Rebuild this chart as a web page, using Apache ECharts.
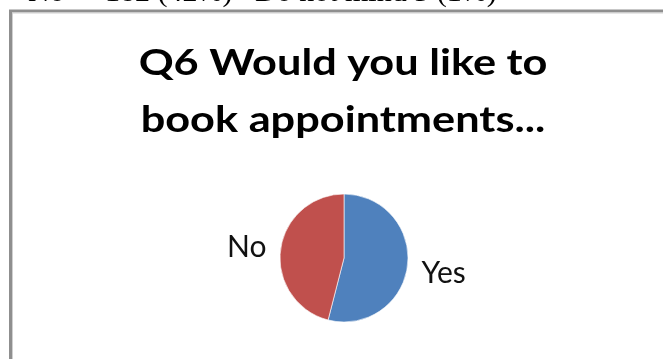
<!DOCTYPE html>
<html>
<head>
<meta charset="utf-8">
<script src="https://cdn.jsdelivr.net/npm/echarts@6/dist/echarts.min.js"></script>
<style>
  html, body { margin: 0; padding: 0; background: #fff; overflow: hidden; }
  #chart { width: 663px; height: 359px; }
</style>
</head>
<body>
<div id="chart"></div>
<script>
// Survey answers for Q6
const categories = ['Yes', 'No'];
const shares = [54, 46];
const sliceColors = ['#4F81BD', '#C0504D'];

// Row of the results table printed just above the chart box
const tableRow = ['No', '182 (42%)', 'Do not mind 3 (1%)'];
const tableRowX = [28, 105, 255];

const titleLines = 'Q6 Would you like to\nbook appointments...';

const chart = echarts.init(document.getElementById('chart'), null, { renderer: 'canvas' });

const tableTexts = tableRow.map((t, i) => ({
  type: 'text',
  x: tableRowX[i],
  y: -22,
  style: {
    text: t,
    font: '30px "Liberation Serif"',
    fill: '#000',
    textVerticalAlign: 'top'
  }
}));

chart.setOption({
  backgroundColor: '#ffffff',
  animation: false,
  graphic: [
    // chart box frame: left and top edges (the rest runs off the page)
    {
      type: 'polyline',
      shape: { points: [[10.5, 400], [10.5, 11], [700, 11]] },
      style: { fill: 'none', stroke: '#8f8f8f', lineWidth: 3 }
    },
    {
      type: 'polyline',
      shape: { points: [[12.5, 400], [12.5, 13], [700, 13]] },
      style: { fill: 'none', stroke: '#d0d0d0', lineWidth: 1 }
    },
    // chart title, slightly widened Calibri-like bold face
    {
      type: 'text',
      x: 343,
      y: 35,
      scaleX: 1.17,
      style: {
        text: titleLines,
        font: 'bold 37px Lato',
        lineHeight: 57,
        fill: '#000',
        textAlign: 'center',
        textVerticalAlign: 'top'
      }
    }
  ].concat(tableTexts),
  series: [{
    type: 'pie',
    center: [344, 258],
    radius: 64,
    startAngle: 90,
    clockwise: true,
    avoidLabelOverlap: false,
    itemStyle: {
      borderColor: 'rgba(255,255,255,0.6)',
      borderWidth: 1
    },
    label: {
      show: true,
      position: 'outside',
      formatter: '{b}',
      fontFamily: 'Lato',
      fontSize: 30,
      color: '#111'
    },
    labelLine: { show: false, length: 0, length2: 9 },
    labelLayout: function (params) {
      return { dy: params.dataIndex === 0 ? 7 : -3 };
    },
    emphasis: { disabled: true },
    data: categories.map((c, i) => ({
      name: c,
      value: shares[i],
      itemStyle: { color: sliceColors[i] }
    }))
  }]
});
</script>
</body>
</html>
